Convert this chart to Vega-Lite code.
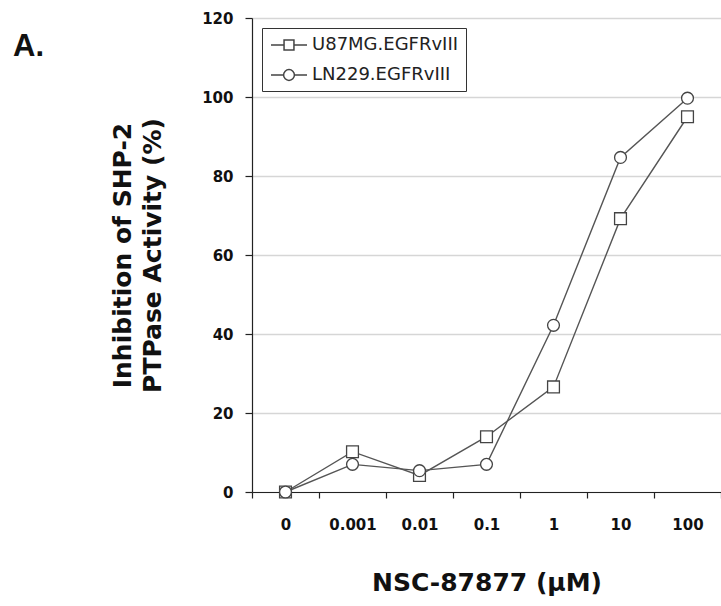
{
  "$schema": "https://vega.github.io/schema/vega-lite/v6.json",
  "width": 469,
  "height": 474,
  "autosize": {"type": "none"},
  "padding": {"left": 252, "top": 18, "right": 0, "bottom": 114},
  "background": "white",
  "config": {"view": {"stroke": null}},
  "title": {
    "text": "A.",
    "anchor": "start",
    "frame": "group",
    "dx": -239,
    "dy": 80,
    "baseline": "alphabetic",
    "font": "Liberation Sans",
    "fontSize": 31,
    "fontWeight": "bold",
    "color": "#111111"
  },
  "data": {
    "values": [
      {"conc": "0", "cell": "U87MG.EGFRvIII", "value": 0},
      {"conc": "0.001", "cell": "U87MG.EGFRvIII", "value": 10.2},
      {"conc": "0.01", "cell": "U87MG.EGFRvIII", "value": 4.2},
      {"conc": "0.1", "cell": "U87MG.EGFRvIII", "value": 14},
      {"conc": "1", "cell": "U87MG.EGFRvIII", "value": 26.6},
      {"conc": "10", "cell": "U87MG.EGFRvIII", "value": 69.2},
      {"conc": "100", "cell": "U87MG.EGFRvIII", "value": 95},
      {"conc": "0", "cell": "LN229.EGFRvIII", "value": 0},
      {"conc": "0.001", "cell": "LN229.EGFRvIII", "value": 7},
      {"conc": "0.01", "cell": "LN229.EGFRvIII", "value": 5.4},
      {"conc": "0.1", "cell": "LN229.EGFRvIII", "value": 7},
      {"conc": "1", "cell": "LN229.EGFRvIII", "value": 42.2},
      {"conc": "10", "cell": "LN229.EGFRvIII", "value": 84.7},
      {"conc": "100", "cell": "LN229.EGFRvIII", "value": 99.7}
    ]
  },
  "encoding": {
    "x": {
      "field": "conc",
      "type": "ordinal",
      "sort": ["0", "0.001", "0.01", "0.1", "1", "10", "100"],
      "bandPosition": 0.5,
      "scale": {"type": "band", "paddingInner": 0, "paddingOuter": 0},
      "axis": {
        "title": "NSC-87877 (μM)",
        "labelAngle": 0,
        "grid": false,
        "tickBand": "extent",
        "tickSize": 6,
        "tickColor": "#222222",
        "tickWidth": 1.2,
        "domainColor": "#222222",
        "domainWidth": 1.2,
        "labelPadding": 19,
        "labelFont": "DejaVu Sans",
        "labelFontWeight": "bold",
        "labelFontSize": 15,
        "labelColor": "#111111",
        "titleFont": "DejaVu Sans",
        "titleFontSize": 25,
        "titleFontWeight": "bold",
        "titleColor": "#111111",
        "titlePadding": 38
      }
    },
    "y": {
      "field": "value",
      "type": "quantitative",
      "scale": {"domain": [0, 120], "nice": false, "zero": true},
      "axis": {
        "values": [0, 20, 40, 60, 80, 100, 120],
        "grid": true,
        "gridColor": "#d6d6d6",
        "gridWidth": 1.5,
        "tickSize": 7,
        "tickColor": "#222222",
        "tickWidth": 1.2,
        "domainColor": "#222222",
        "domainWidth": 1.2,
        "labelPadding": 12,
        "labelFont": "DejaVu Sans",
        "labelFontWeight": "bold",
        "labelFontSize": 15,
        "labelColor": "#111111",
        "title": ["Inhibition of SHP-2", "PTPase Activity (%)"],
        "titleFont": "DejaVu Sans",
        "titleFontSize": 25,
        "titleFontWeight": "bold",
        "titleColor": "#111111",
        "titleLineHeight": 30,
        "titlePadding": 36
      }
    }
  },
  "layer": [
    {
      "mark": {"type": "line", "color": "#555555", "strokeWidth": 1.4},
      "encoding": {"detail": {"field": "cell", "type": "nominal"}}
    },
    {
      "mark": {"type": "point", "filled": true, "fill": "white", "stroke": "#444444", "strokeWidth": 1.3, "size": 140, "opacity": 1},
      "encoding": {
        "shape": {
          "field": "cell",
          "type": "nominal",
          "scale": {"domain": ["U87MG.EGFRvIII", "LN229.EGFRvIII"], "range": ["square", "circle"]},
          "legend": null
        }
      }
    },
    {
      "mark": {"type": "point", "filled": false, "stroke": "#444444", "strokeWidth": 1.3, "size": 324, "opacity": 0},
      "encoding": {
        "shape": {
          "field": "cell",
          "type": "nominal",
          "scale": {
            "domain": ["U87MG.EGFRvIII", "LN229.EGFRvIII"],
            "range": [
              "M-2,0H-0.55M0.55,0H2M-0.55,-0.55H0.55V0.55H-0.55Z",
              "M-2,0H-0.6M0.6,0H2M-0.6,0A0.6,0.6 0 1,1 0.6,0A0.6,0.6 0 1,1 -0.6,0Z"
            ]
          },
          "legend": {
            "title": null,
            "orient": "none",
            "legendX": 10,
            "legendY": 10,
            "strokeColor": "#333333",
            "padding": 7,
            "symbolSize": 324,
            "symbolOffset": 10,
            "rowPadding": 11,
            "labelOffset": 13,
            "labelFont": "DejaVu Sans",
            "labelFontSize": 18,
            "labelColor": "#222222",
            "encode": {
              "legend": {"update": {"strokeWidth": {"value": 1.5}}},
              "symbols": {
                "update": {
                  "opacity": {"value": 1},
                  "fill": {"value": "white"},
                  "stroke": {"value": "#444444"},
                  "strokeWidth": {"value": 1.3},
                  "size": {"value": 324}
                }
              }
            }
          }
        }
      }
    }
  ],
  "resolve": {"scale": {"shape": "independent"}, "legend": {"shape": "independent"}}
}
